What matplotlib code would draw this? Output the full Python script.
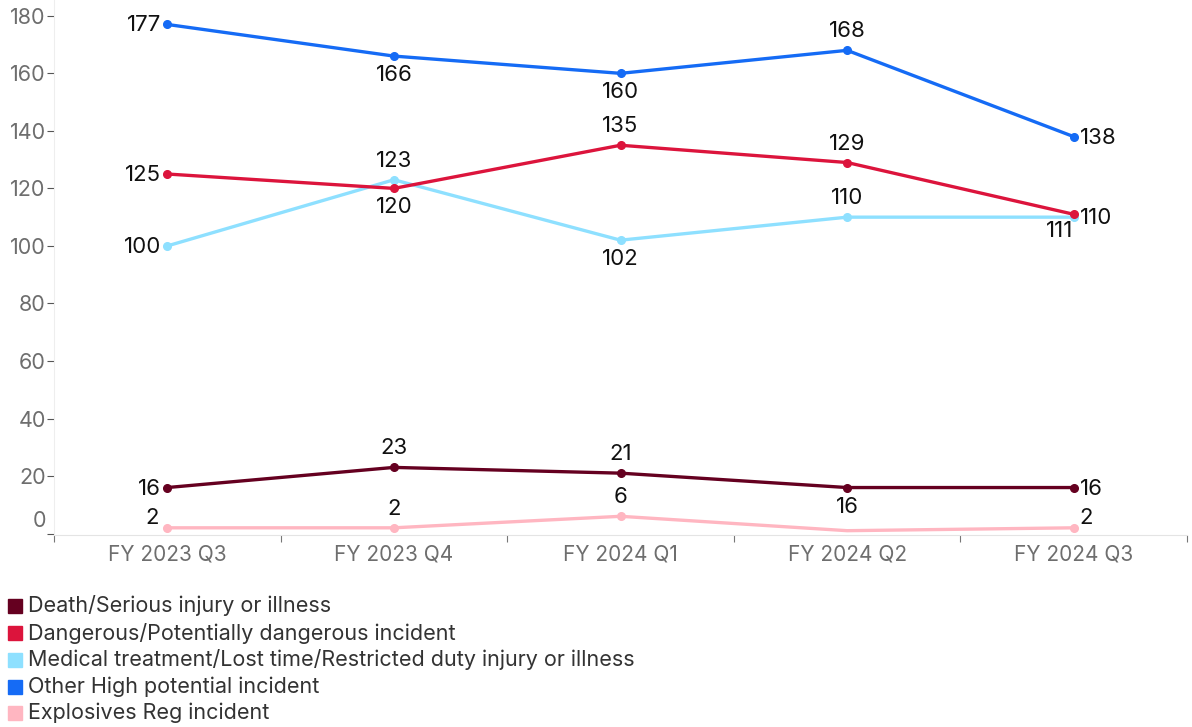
import matplotlib
matplotlib.use('Agg')
import matplotlib.pyplot as plt
from matplotlib.patches import Rectangle

plt.rcParams['font.family'] = ['Inter', 'DejaVu Sans']

# ── data ──────────────────────────────────
quarters = ['FY 2023 Q3', 'FY 2023 Q4', 'FY 2024 Q1', 'FY 2024 Q2', 'FY 2024 Q3']

death     = [16, 23, 21, 16, 16]
dangerous = [125, 120, 135, 129, 111]
medical   = [100, 123, 102, 110, 110]
other_hp  = [177, 166, 160, 168, 138]
explosive = [2, 2, 6, 1, 2]

series_names = [
    'Death/Serious injury or illness',
    'Dangerous/Potentially dangerous incident',
    'Medical treatment/Lost time/Restricted duty injury or illness',
    'Other High potential incident',
    'Explosives Reg incident',
]

# ── styling ───────────────────────────────
COLORS = ['#650020', '#dc143c', '#8ee0ff', '#156bf5', '#ffb6c1']

# label placement per point: L=left, R=right, A=above, B=below, l/r=left/right raised, X=below-left, N=none
PLACE = [
    ['L', 'A', 'A', 'B', 'R'],
    ['L', 'B', 'A', 'A', 'X'],
    ['L', 'A', 'B', 'A', 'R'],
    ['L', 'B', 'B', 'A', 'R'],
    ['l', 'A', 'A', 'N', 'r'],
]
OFFSETS = {
    'L': ((-6, -1), 'right', 'center'),
    'R': ((6, -1), 'left', 'center'),
    'A': ((0, 19), 'center', 'center'),
    'B': ((0, -19), 'center', 'center'),
    'l': ((-8, 10), 'right', 'center'),
    'r': ((6, 10), 'left', 'center'),
    'X': ((-14, -17), 'center', 'center'),
}

fig = plt.figure(figsize=(11.92, 7.27), dpi=100)
ax = fig.add_axes([54 / 1192, 1 - 535 / 727, (1187 - 54) / 1192, 535 / 727])

all_series = [death, dangerous, medical, other_hp, explosive]
x = list(range(len(quarters)))
z_order = [4, 3, 2, 5, 1]
for vals, color, places, zo in zip(all_series, COLORS, PLACE, z_order):
    marks = [i for i, p in enumerate(places) if p != 'N']
    ax.plot(x, vals, '-o', color=color, lw=2.4, ms=5.5, markevery=marks,
            solid_capstyle='round', zorder=zo)
    for i, (v, p) in enumerate(zip(vals, places)):
        if p == 'N':
            continue
        (dx, dy), ha, va = OFFSETS[p]
        ax.annotate(str(v), xy=(i, v), xytext=(dx, dy), textcoords='offset pixels',
                    ha=ha, va=va, fontsize=16, color='#111111', zorder=6)

ax.set_xlim(-0.5, len(quarters) - 0.5)
ax.set_ylim(-0.5, 185.5)

ax.set_yticks(range(0, 181, 20))
ax.set_yticklabels([''] + [str(v) for v in range(20, 181, 20)])
ax.annotate('0', xy=(0, 0), xycoords=('axes fraction', 'data'), xytext=(-8, 13),
            textcoords='offset pixels', ha='right', va='center', fontsize=15.5, color='#6e6e6e')
ax.tick_params(axis='y', length=5, width=0.8, color='#555555', labelcolor='#6e6e6e',
               labelsize=15.5, pad=1)

ax.set_xticks(x)
ax.set_xticklabels(quarters)
ax.tick_params(axis='x', length=0, labelcolor='#6e6e6e', labelsize=15, pad=7)
ax.set_xticks([i - 0.5 for i in range(len(quarters) + 1)], minor=True)
ax.tick_params(axis='x', which='minor', length=5, width=0.8, color='#777777')

for side in ['top', 'right']:
    ax.spines[side].set_visible(False)
ax.spines['left'].set_color('#eeeeee')
ax.spines['bottom'].set_color('#e4e4e4')

# ── legend ────────────────────────────────
row_y = [606, 633, 660, 687, 713]
for name, color, yy in zip(series_names, COLORS, row_y):
    fig.patches.append(Rectangle((8 / 1192, 1 - (yy + 7) / 727), 14 / 1192, 14 / 727,
                                 transform=fig.transFigure, color=color))
    fig.text(28 / 1192, 1 - yy / 727, name, ha='left', va='center',
             fontsize=15.5, color='#333333')

fig.savefig('out.png', dpi=100)
